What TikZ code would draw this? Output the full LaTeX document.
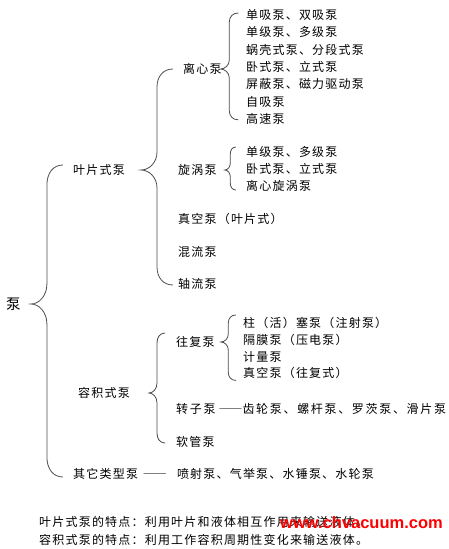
\documentclass[tikz,border=0pt]{standalone}
\usepackage{fontspec}
\setmainfont[LetterSpace=10]{Noto Sans CJK SC}
\newfontfamily\markfont{Liberation Sans}
\usetikzlibrary{calc}

% curly brace: tip, top end, bottom end, half width, bend radius
\newcommand{\curlybrace}[5]{%
	\draw[bracket] let \p1=(#1), \p2=(#2), \p3=(#3) in
		({\x1+2*#4},\y2) .. controls ({\x1+1.4*#4},\y2) and ({\x1+#4},{\y2-0.4*#5}) .. ({\x1+#4},{\y2-#5})
		-- ({\x1+#4},{\y1+#5})
		.. controls ({\x1+#4},{\y1+0.4*#5}) and ({\x1+0.5*#4},\y1) .. (\x1,\y1)
		.. controls ({\x1+0.5*#4},\y1) and ({\x1+#4},{\y1-0.4*#5}) .. ({\x1+#4},{\y1-#5})
		-- ({\x1+#4},{\y3+#5})
		.. controls ({\x1+#4},{\y3+0.4*#5}) and ({\x1+1.4*#4},\y3) .. ({\x1+2*#4},\y3);
}
% full width dash pair
\newcommand{\longdash}{{\addfontfeatures{RawFeature=+fwid}——}}

\tikzset{
	item/.style={anchor=west, inner sep=0pt, font=\fontsize{12pt}{14pt}\selectfont},
	bracket/.style={draw=black!70, line width=0.8pt}
}

\begin{document}
\begin{tikzpicture}[x=1pt, y=-1pt]
		\useasboundingbox (0,0) rectangle (449,549);

		\node[item, font=\fontsize{14.5pt}{16pt}\selectfont] (pump) at (6,304) {泵};

		\node[item] (yp) at (73,170) {叶片式泵};
		\node[item] (rj) at (78,393) {容积式泵};
		\node[item] (qt) at (73,474) {其它类型泵\hspace{5pt}\longdash\hspace{10pt}喷射泵、气举泵、水锤泵、水轮泵};

		% vane pumps
		\node[item] (lx) at (183,69) {离心泵};
		\node[item] (xw) at (178,170) {旋涡泵};
		\node[item] (zk) at (178,219) {真空泵（叶片式）};
		\node[item] (hl) at (178,252) {混流泵};
		\node[item] (zl) at (178,284) {轴流泵};

		\foreach \t [count=\i] in {单吸泵、双吸泵, 单级泵、多级泵, 蜗壳式泵、分段式泵,
			卧式泵、立式泵, 屏蔽泵、磁力驱动泵, 自吸泵, 高速泵} {
			\node[item] (lx\i) at (246, {15+17.3*(\i-1)}) {\t};
		}
		\foreach \t [count=\i] in {单级泵、多级泵, 卧式泵、立式泵, 离心旋涡泵} {
			\node[item] (xw\i) at (246, {152+17*(\i-1)}) {\t};
		}

		% positive displacement pumps
		\node[item] (wf) at (176,342) {往复泵};
		\node[item] (zz) at (176,409) {\addfontfeatures{LetterSpace=14}转子泵\hspace{3pt}\longdash 齿轮泵、螺杆泵、罗茨泵、滑片泵};
		\node[item] (rg) at (176,442) {软管泵};

		\foreach \t [count=\i] in {柱（活）塞泵（注射泵）, 隔膜泵（压电泵）, 计量泵, 真空泵（往复式）} {
			\node[item] (wf\i) at (243, {323+16.8*(\i-1)}) {\t};
		}

		\curlybrace{[xshift=10pt]pump.east}{[yshift=5pt]yp.west}{[yshift=-3pt]qt.west}{16pt}{20pt}
		\curlybrace{[xshift=16pt]yp.east}{lx.west}{[yshift=-1pt]zl.west}{16pt}{18pt}
		\curlybrace{[xshift=-1.5pt]lx.east}{[yshift=2pt]lx1.west}{[yshift=-1pt]lx7.west}{9pt}{9pt}
		\curlybrace{[xshift=8pt]xw.east}{[yshift=5pt]xw1.west}{[yshift=-4pt]xw3.west}{5.5pt}{7pt}
		\curlybrace{[xshift=19pt]rj.east}{[yshift=9pt]wf.west}{[yshift=-1pt]rg.west}{8pt}{10pt}
		\curlybrace{[xshift=6pt]wf.east}{[yshift=8pt]wf1.west}{[yshift=-7pt]wf4.west}{7.5pt}{8pt}

		% notes
		\node[item] (note1) at (39,522) {叶片式泵的特点：利用叶片和液体相互作用来输送液体。};
		\node[item] (note2) at (39,540) {容积式泵的特点：利用工作容积周期性变化来输送液体。};
		\node[anchor=west, inner sep=0pt, text=red, font=\markfont\bfseries\fontsize{16.5pt}{18pt}\selectfont] (mark) at (280,523) {www.chvacuum.com};
	\end{tikzpicture}
\end{document}
